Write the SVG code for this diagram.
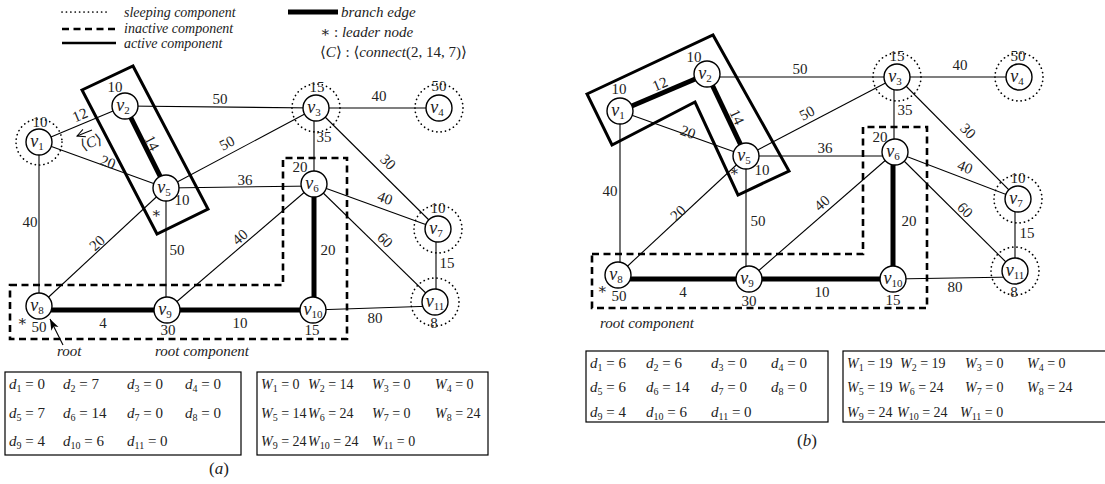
<svg xmlns="http://www.w3.org/2000/svg" width="1105" height="484" viewBox="0 0 1105 484">
<defs>
<style>
.e{stroke:#000;stroke-width:1.1;fill:none}
.b{stroke:#000;stroke-width:5;fill:none}
.n{fill:#fff;stroke:#000;stroke-width:1.4}
.dc{fill:none;stroke:#000;stroke-width:1.7;stroke-dasharray:0.1 4.3;stroke-linecap:round}
.act{fill:none;stroke:#000;stroke-width:3}
.ina{fill:none;stroke:#000;stroke-width:2.6;stroke-dasharray:7 4.5}
.box{fill:none;stroke:#000;stroke-width:1.2}
text{font-family:"Liberation Serif","DejaVu Serif",serif;fill:#222}
.w{font-size:15px;text-anchor:middle}
.v{font-size:18px;font-style:italic;text-anchor:middle}
.v tspan{font-style:normal;font-size:11px}
.lg{font-size:14px;font-style:italic}
.rl{font-size:15px;font-style:italic}
.tb{font-size:15px}
.tw{font-size:14px}
.i{font-style:italic}
.sb{font-size:10px}
</style>
<marker id="open" markerWidth="10" markerHeight="10" refX="9" refY="5" orient="auto" markerUnits="userSpaceOnUse">
<path d="M1,1 L9,5 L1,9" fill="none" stroke="#000" stroke-width="1"/>
</marker>
<marker id="solid" markerWidth="12" markerHeight="10" refX="11" refY="5" orient="auto" markerUnits="userSpaceOnUse">
<path d="M0,1 L11,5 L0,9 L3,5 Z" fill="#000"/>
</marker>
</defs>
<rect width="1105" height="484" fill="#fff"/>

<g id="legend">
<line x1="62" y1="12" x2="110" y2="12" class="dc"/>
<text class="lg" x="124" y="17">sleeping component</text>
<line x1="62" y1="29" x2="116" y2="29" class="ina"/>
<text class="lg" x="124" y="33">inactive component</text>
<line x1="62" y1="43" x2="116" y2="43" stroke="#000" stroke-width="2.6"/>
<text class="lg" x="124" y="48">active component</text>
<line x1="288" y1="12" x2="338" y2="12" class="b"/>
<text class="rl" x="341" y="17">branch edge</text>
<text class="tb" x="320" y="37">∗ : <tspan class="i">leader node</tspan></text>
<text class="tb" x="320" y="57">⟨<tspan class="i">C</tspan>⟩ : ⟨<tspan class="i">connect</tspan>(2, 14, 7)⟩</text>
</g>

<!-- ===== (a) ===== -->
<g id="a-components">
<polygon class="ina" points="10,285 283,285 283,158 347,158 347,339 10,339"/>
<polygon class="act" points="82,90 133,66 208,209 157,234"/>
</g>

<g id="a-connectors">
<line class="e" x1="39" y1="142" x2="125" y2="106"/>
<line class="b" x1="125" y1="106" x2="166" y2="188"/>
<line class="e" x1="39" y1="142" x2="166" y2="188"/>
<line class="e" x1="125" y1="106" x2="316" y2="108"/>
<line class="e" x1="166" y1="188" x2="316" y2="108"/>
<line class="e" x1="166" y1="188" x2="314" y2="186"/>
<line class="e" x1="316" y1="108" x2="439" y2="108"/>
<line class="e" x1="314" y1="108" x2="314" y2="184"/>
<line class="e" x1="316" y1="108" x2="438" y2="229"/>
<line class="e" x1="314" y1="184" x2="438" y2="229"/>
<line class="e" x1="314" y1="184" x2="435" y2="302"/>
<line class="e" x1="436" y1="229" x2="436" y2="302"/>
<line class="b" x1="314" y1="184" x2="314" y2="310"/>
<line class="e" x1="313" y1="310" x2="435" y2="306"/>
<line class="b" x1="45" y1="310" x2="167" y2="310"/>
<line class="b" x1="167" y1="310" x2="313" y2="310"/>
<line class="e" x1="166" y1="188" x2="166" y2="310"/>
<line class="e" x1="39" y1="306" x2="166" y2="188"/>
<line class="e" x1="167" y1="310" x2="314" y2="184"/>
<line class="e" x1="39" y1="142" x2="39" y2="306"/>
<line class="e" x1="92" y1="130" x2="77" y2="136" marker-end="url(#open)"/>
<line class="e" x1="63" y1="345" x2="50" y2="319" marker-end="url(#solid)"/>
<text class="w" x="80" y="120" transform="rotate(-23 80 115)">12</text>
<text class="w" x="152" y="148" transform="rotate(63 152 143)">14</text>
<text class="w" x="108" y="167" transform="rotate(20 108 162)">20</text>
<text class="w" x="220" y="104">50</text>
<text class="w" x="227" y="148" transform="rotate(-28 227 143)">50</text>
<text class="w" x="245" y="185">36</text>
<text class="w" x="379" y="101">40</text>
<text class="w" x="324" y="142">35</text>
<text class="w" x="388" y="167" transform="rotate(45 388 162)">30</text>
<text class="w" x="385" y="203" transform="rotate(20 385 198)">40</text>
<text class="w" x="385" y="245" transform="rotate(44 385 240)">60</text>
<text class="w" x="447" y="268">15</text>
<text class="w" x="328" y="255">20</text>
<text class="w" x="375" y="323">80</text>
<text class="w" x="103" y="328">4</text>
<text class="w" x="240" y="328">10</text>
<text class="w" x="177" y="255">50</text>
<text class="w" x="97" y="248" transform="rotate(-43 97 243)">20</text>
<text class="w" x="240" y="242" transform="rotate(-41 240 237)">40</text>
<text class="w" x="30" y="227">40</text>
<text class="w" x="91" y="147" fill="#777" transform="rotate(-20 91 142)">⟨<tspan class="i">C</tspan>⟩</text>
<text class="rl" x="57" y="356">root</text>
<text class="rl" x="155" y="356">root component</text>
</g>

<g id="a-v1"><circle class="dc" cx="39" cy="142" r="23"/><circle class="n" cx="39" cy="142" r="13"/><text class="v" x="37" y="147">v<tspan dy="3">1</tspan></text><text class="w" x="40" y="127">10</text></g>
<g id="a-v2"><circle class="n" cx="125" cy="106" r="13"/><text class="v" x="123" y="111">v<tspan dy="3">2</tspan></text><text class="w" x="115" y="92">10</text></g>
<g id="a-v3"><circle class="dc" cx="316" cy="108" r="24"/><circle class="n" cx="316" cy="108" r="13"/><text class="v" x="314" y="113">v<tspan dy="3">3</tspan></text><text class="w" x="317" y="92">15</text></g>
<g id="a-v4"><circle class="dc" cx="439" cy="108" r="24"/><circle class="n" cx="439" cy="108" r="13"/><text class="v" x="437" y="113">v<tspan dy="3">4</tspan></text><text class="w" x="439" y="91">50</text></g>
<g id="a-v5"><circle class="n" cx="166" cy="188" r="13"/><text class="v" x="164" y="193">v<tspan dy="3">5</tspan></text><text class="w" x="182" y="205">10</text><text class="w" x="156" y="218">∗</text></g>
<g id="a-v6"><circle class="n" cx="314" cy="184" r="13"/><text class="v" x="312" y="189">v<tspan dy="3">6</tspan></text><text class="w" x="300" y="172">20</text></g>
<g id="a-v7"><circle class="dc" cx="438" cy="229" r="24"/><circle class="n" cx="438" cy="229" r="13"/><text class="v" x="436" y="234">v<tspan dy="3">7</tspan></text><text class="w" x="438" y="213">10</text></g>
<g id="a-v8"><circle class="n" cx="39" cy="306" r="13"/><text class="v" x="37" y="311">v<tspan dy="3">8</tspan></text><text class="w" x="39" y="332">50</text><text class="w" x="22" y="326">∗</text></g>
<g id="a-v9"><circle class="n" cx="167" cy="310" r="13"/><text class="v" x="165" y="315">v<tspan dy="3">9</tspan></text><text class="w" x="168" y="335">30</text></g>
<g id="a-v10"><circle class="n" cx="313" cy="310" r="13"/><text class="v" x="313" y="315">v<tspan dy="3">10</tspan></text><text class="w" x="312" y="335">15</text></g>
<g id="a-v11"><circle class="dc" cx="435" cy="302" r="24"/><circle class="n" cx="435" cy="302" r="13"/><text class="v" x="435" y="307">v<tspan dy="3">11</tspan></text><text class="w" x="434" y="328">8</text></g>

<g id="a-tables">
<rect class="box" x="5" y="372" width="236" height="83"/>
<rect class="box" x="257" y="372" width="231" height="83"/>
<g class="tb">
<text x="9" y="389"><tspan class="i">d</tspan><tspan class="sb" dy="3">1</tspan><tspan dy="-3"> = 0</tspan></text>
<text x="63" y="389"><tspan class="i">d</tspan><tspan class="sb" dy="3">2</tspan><tspan dy="-3"> = 7</tspan></text>
<text x="127" y="389"><tspan class="i">d</tspan><tspan class="sb" dy="3">3</tspan><tspan dy="-3"> = 0</tspan></text>
<text x="185" y="389"><tspan class="i">d</tspan><tspan class="sb" dy="3">4</tspan><tspan dy="-3"> = 0</tspan></text>
<text x="9" y="418"><tspan class="i">d</tspan><tspan class="sb" dy="3">5</tspan><tspan dy="-3"> = 7</tspan></text>
<text x="63" y="418"><tspan class="i">d</tspan><tspan class="sb" dy="3">6</tspan><tspan dy="-3"> = 14</tspan></text>
<text x="127" y="418"><tspan class="i">d</tspan><tspan class="sb" dy="3">7</tspan><tspan dy="-3"> = 0</tspan></text>
<text x="185" y="418"><tspan class="i">d</tspan><tspan class="sb" dy="3">8</tspan><tspan dy="-3"> = 0</tspan></text>
<text x="9" y="446"><tspan class="i">d</tspan><tspan class="sb" dy="3">9</tspan><tspan dy="-3"> = 4</tspan></text>
<text x="63" y="446"><tspan class="i">d</tspan><tspan class="sb" dy="3">10</tspan><tspan dy="-3"> = 6</tspan></text>
<text x="127" y="446"><tspan class="i">d</tspan><tspan class="sb" dy="3">11</tspan><tspan dy="-3"> = 0</tspan></text>
</g>
<g class="tw">
<text x="261" y="389"><tspan class="i">W</tspan><tspan class="sb" dy="3">1</tspan><tspan dy="-3"> = 0</tspan></text>
<text x="308" y="389"><tspan class="i">W</tspan><tspan class="sb" dy="3">2</tspan><tspan dy="-3"> = 14</tspan></text>
<text x="372" y="389"><tspan class="i">W</tspan><tspan class="sb" dy="3">3</tspan><tspan dy="-3"> = 0</tspan></text>
<text x="435" y="389"><tspan class="i">W</tspan><tspan class="sb" dy="3">4</tspan><tspan dy="-3"> = 0</tspan></text>
<text x="261" y="418"><tspan class="i">W</tspan><tspan class="sb" dy="3">5</tspan><tspan dy="-3"> = 14</tspan></text>
<text x="308" y="418"><tspan class="i">W</tspan><tspan class="sb" dy="3">6</tspan><tspan dy="-3"> = 24</tspan></text>
<text x="372" y="418"><tspan class="i">W</tspan><tspan class="sb" dy="3">7</tspan><tspan dy="-3"> = 0</tspan></text>
<text x="435" y="418"><tspan class="i">W</tspan><tspan class="sb" dy="3">8</tspan><tspan dy="-3"> = 24</tspan></text>
<text x="261" y="446"><tspan class="i">W</tspan><tspan class="sb" dy="3">9</tspan><tspan dy="-3"> = 24</tspan></text>
<text x="308" y="446"><tspan class="i">W</tspan><tspan class="sb" dy="3">10</tspan><tspan dy="-3"> = 24</tspan></text>
<text x="372" y="446"><tspan class="i">W</tspan><tspan class="sb" dy="3">11</tspan><tspan dy="-3"> = 0</tspan></text>
</g>
<text x="219" y="474" font-size="17" text-anchor="middle">(<tspan class="i">a</tspan>)</text>
</g>

<!-- ===== (b) ===== -->
<g id="b-components">
<polygon class="ina" points="592,254 863,254 863,127 927,127 927,308 592,308"/>
<polygon class="act" points="587,94 713,35 789,171 738,195 695,102 612,145"/>
</g>

<g id="b-connectors">
<line class="b" x1="620" y1="111" x2="707" y2="74"/>
<line class="b" x1="707" y1="74" x2="746" y2="156"/>
<line class="e" x1="620" y1="111" x2="746" y2="156"/>
<line class="e" x1="707" y1="77" x2="897" y2="77"/>
<line class="e" x1="746" y1="156" x2="897" y2="77"/>
<line class="e" x1="746" y1="156" x2="895" y2="156"/>
<line class="e" x1="897" y1="77" x2="1019" y2="77"/>
<line class="e" x1="894" y1="77" x2="894" y2="152"/>
<line class="e" x1="897" y1="77" x2="1018" y2="199"/>
<line class="e" x1="895" y1="152" x2="1018" y2="199"/>
<line class="e" x1="895" y1="152" x2="1015" y2="271"/>
<line class="e" x1="1015" y1="199" x2="1015" y2="271"/>
<line class="b" x1="893" y1="152" x2="893" y2="279"/>
<line class="e" x1="893" y1="279" x2="1015" y2="277"/>
<line class="b" x1="625" y1="279" x2="749" y2="279"/>
<line class="b" x1="749" y1="279" x2="893" y2="279"/>
<line class="e" x1="746" y1="156" x2="746" y2="279"/>
<line class="e" x1="618" y1="275" x2="746" y2="156"/>
<line class="e" x1="749" y1="279" x2="895" y2="152"/>
<line class="e" x1="620" y1="111" x2="620" y2="275"/>
<text class="w" x="660" y="89" transform="rotate(-23 660 84)">12</text>
<text class="w" x="737" y="122" transform="rotate(65 737 117)">14</text>
<text class="w" x="688" y="137" transform="rotate(20 688 132)">20</text>
<text class="w" x="800" y="74">50</text>
<text class="w" x="807" y="118" transform="rotate(-28 807 113)">50</text>
<text class="w" x="825" y="153">36</text>
<text class="w" x="960" y="70">40</text>
<text class="w" x="905" y="115">35</text>
<text class="w" x="968" y="136" transform="rotate(45 968 131)">30</text>
<text class="w" x="965" y="172" transform="rotate(21 965 167)">40</text>
<text class="w" x="965" y="215" transform="rotate(45 965 210)">60</text>
<text class="w" x="1027" y="238">15</text>
<text class="w" x="909" y="226">20</text>
<text class="w" x="955" y="292">80</text>
<text class="w" x="683" y="297">4</text>
<text class="w" x="822" y="297">10</text>
<text class="w" x="758" y="226">50</text>
<text class="w" x="678" y="218" transform="rotate(-43 678 213)">20</text>
<text class="w" x="822" y="208" transform="rotate(-41 822 203)">40</text>
<text class="w" x="610" y="196">40</text>
<text class="rl" x="600" y="328">root component</text>
</g>

<g id="b-v1"><circle class="n" cx="620" cy="111" r="13"/><text class="v" x="618" y="116">v<tspan dy="3">1</tspan></text><text class="w" x="619" y="94">10</text></g>
<g id="b-v2"><circle class="n" cx="707" cy="74" r="13"/><text class="v" x="705" y="79">v<tspan dy="3">2</tspan></text><text class="w" x="694" y="62">10</text></g>
<g id="b-v3"><circle class="dc" cx="897" cy="77" r="24"/><circle class="n" cx="897" cy="77" r="13"/><text class="v" x="895" y="82">v<tspan dy="3">3</tspan></text><text class="w" x="897" y="61">15</text></g>
<g id="b-v4"><circle class="dc" cx="1019" cy="77" r="24"/><circle class="n" cx="1019" cy="77" r="13"/><text class="v" x="1017" y="82">v<tspan dy="3">4</tspan></text><text class="w" x="1018" y="61">50</text></g>
<g id="b-v5"><circle class="n" cx="746" cy="156" r="13"/><text class="v" x="744" y="161">v<tspan dy="3">5</tspan></text><text class="w" x="762" y="175">10</text><text class="w" x="734" y="176">∗</text></g>
<g id="b-v6"><circle class="n" cx="895" cy="152" r="13"/><text class="v" x="893" y="157">v<tspan dy="3">6</tspan></text><text class="w" x="880" y="142">20</text></g>
<g id="b-v7"><circle class="dc" cx="1018" cy="199" r="24"/><circle class="n" cx="1018" cy="199" r="13"/><text class="v" x="1016" y="204">v<tspan dy="3">7</tspan></text><text class="w" x="1018" y="183">10</text></g>
<g id="b-v8"><circle class="n" cx="618" cy="275" r="13"/><text class="v" x="616" y="280">v<tspan dy="3">8</tspan></text><text class="w" x="619" y="301">50</text><text class="w" x="602" y="294">∗</text></g>
<g id="b-v9"><circle class="n" cx="749" cy="279" r="13"/><text class="v" x="747" y="284">v<tspan dy="3">9</tspan></text><text class="w" x="749" y="306">30</text></g>
<g id="b-v10"><circle class="n" cx="893" cy="279" r="13"/><text class="v" x="893" y="284">v<tspan dy="3">10</tspan></text><text class="w" x="893" y="305">15</text></g>
<g id="b-v11"><circle class="dc" cx="1015" cy="271" r="24"/><circle class="n" cx="1015" cy="271" r="13"/><text class="v" x="1015" y="276">v<tspan dy="3">11</tspan></text><text class="w" x="1014" y="297">8</text></g>

<g id="b-tables">
<rect class="box" x="586" y="351" width="242" height="71"/>
<rect class="box" x="843" y="351" width="270" height="71"/>
<g class="tb">
<text x="590" y="368"><tspan class="i">d</tspan><tspan class="sb" dy="3">1</tspan><tspan dy="-3"> = 6</tspan></text>
<text x="646" y="368"><tspan class="i">d</tspan><tspan class="sb" dy="3">2</tspan><tspan dy="-3"> = 6</tspan></text>
<text x="711" y="368"><tspan class="i">d</tspan><tspan class="sb" dy="3">3</tspan><tspan dy="-3"> = 0</tspan></text>
<text x="771" y="368"><tspan class="i">d</tspan><tspan class="sb" dy="3">4</tspan><tspan dy="-3"> = 0</tspan></text>
<text x="590" y="392"><tspan class="i">d</tspan><tspan class="sb" dy="3">5</tspan><tspan dy="-3"> = 6</tspan></text>
<text x="646" y="392"><tspan class="i">d</tspan><tspan class="sb" dy="3">6</tspan><tspan dy="-3"> = 14</tspan></text>
<text x="711" y="392"><tspan class="i">d</tspan><tspan class="sb" dy="3">7</tspan><tspan dy="-3"> = 0</tspan></text>
<text x="771" y="392"><tspan class="i">d</tspan><tspan class="sb" dy="3">8</tspan><tspan dy="-3"> = 0</tspan></text>
<text x="590" y="417"><tspan class="i">d</tspan><tspan class="sb" dy="3">9</tspan><tspan dy="-3"> = 4</tspan></text>
<text x="646" y="417"><tspan class="i">d</tspan><tspan class="sb" dy="3">10</tspan><tspan dy="-3"> = 6</tspan></text>
<text x="711" y="417"><tspan class="i">d</tspan><tspan class="sb" dy="3">11</tspan><tspan dy="-3"> = 0</tspan></text>
</g>
<g class="tw">
<text x="847" y="368"><tspan class="i">W</tspan><tspan class="sb" dy="3">1</tspan><tspan dy="-3"> = 19</tspan></text>
<text x="900" y="368"><tspan class="i">W</tspan><tspan class="sb" dy="3">2</tspan><tspan dy="-3"> = 19</tspan></text>
<text x="965" y="368"><tspan class="i">W</tspan><tspan class="sb" dy="3">3</tspan><tspan dy="-3"> = 0</tspan></text>
<text x="1027" y="368"><tspan class="i">W</tspan><tspan class="sb" dy="3">4</tspan><tspan dy="-3"> = 0</tspan></text>
<text x="847" y="392"><tspan class="i">W</tspan><tspan class="sb" dy="3">5</tspan><tspan dy="-3"> = 19</tspan></text>
<text x="898" y="392"><tspan class="i">W</tspan><tspan class="sb" dy="3">6</tspan><tspan dy="-3"> = 24</tspan></text>
<text x="965" y="392"><tspan class="i">W</tspan><tspan class="sb" dy="3">7</tspan><tspan dy="-3"> = 0</tspan></text>
<text x="1027" y="392"><tspan class="i">W</tspan><tspan class="sb" dy="3">8</tspan><tspan dy="-3"> = 24</tspan></text>
<text x="847" y="417"><tspan class="i">W</tspan><tspan class="sb" dy="3">9</tspan><tspan dy="-3"> = 24</tspan></text>
<text x="897" y="417"><tspan class="i">W</tspan><tspan class="sb" dy="3">10</tspan><tspan dy="-3"> = 24</tspan></text>
<text x="960" y="417"><tspan class="i">W</tspan><tspan class="sb" dy="3">11</tspan><tspan dy="-3"> = 0</tspan></text>
</g>
<text x="807" y="446" font-size="17" text-anchor="middle">(<tspan class="i">b</tspan>)</text>
</g>
</svg>
